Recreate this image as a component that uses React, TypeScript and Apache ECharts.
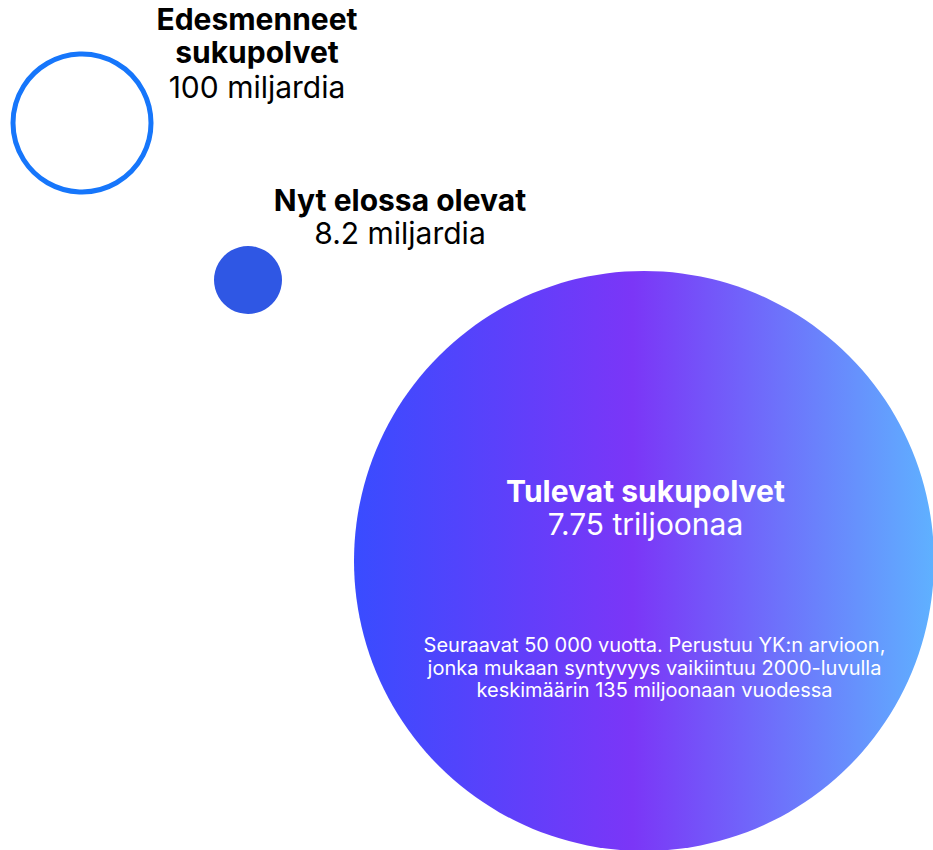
import React, { useEffect, useRef } from "react";
import * as echarts from "echarts";

// Data
const groups = ["Edesmenneet sukupolvet", "Nyt elossa olevat", "Tulevat sukupolvet"];
const amounts = ["100 miljardia", "8.2 miljardia", "7.75 triljoonaa"];
const valuesBillions = [100, 8.2, 7750];
const footnote = [
  "Seuraavat 50 000 vuotta. Perustuu YK:n arvioon,",
  "jonka mukaan syntyvyys vaikiintuu 2000-luvulla",
  "keskimäärin 135 miljoonaan vuodessa",
];

// Layout (pixel-space positions on a hidden axis)
const centers: [number, number][] = [
  [82, 123],
  [248, 280],
  [644, 561],
];
const diameters = [138, 68, 580];

const FONT = "Inter, 'Noto Sans', sans-serif";

export default function App() {
  const ref = useRef<HTMLDivElement>(null);
  useEffect(() => {
    document.body.style.margin = "0";
    const chart = echarts.init(ref.current!, null, { renderer: "svg" });
    const data = centers.map((c, i) => {
      const base: any = {
        name: groups[i],
        value: [c[0], c[1], valuesBillions[i]],
        symbolSize: diameters[i],
      };
      if (i === 0) {
        base.itemStyle = { color: "rgba(255,255,255,0)", borderColor: "#1676fb", borderWidth: 5, opacity: 1 };
      } else if (i === 1) {
        base.itemStyle = { color: "#2f57e4", opacity: 1 };
      } else {
        base.itemStyle = {
          opacity: 1,
          color: new echarts.graphic.LinearGradient(0, 0, 1, 0, [
            { offset: 0, color: "#394cff" },
            { offset: 0.48, color: "#7b36f7" },
            { offset: 1, color: "#5fb1ff" },
          ]),
        };
      }
      return base;
    });

    const titleLines0 = groups[0].split(" ");
    const bold = (fill: string, lh: number, w: number) => ({
      fontFamily: FONT, fontSize: 30, fontWeight: "bold", lineHeight: lh, fill, align: "center", width: w,
    });
    const reg = (fill: string, lh: number, w: number) => ({
      fontFamily: FONT, fontSize: 30, lineHeight: lh, fill, align: "center", width: w,
    });
    chart.setOption({
      animation: false,
      grid: { left: 0, right: 0, top: 0, bottom: 0 },
      xAxis: { type: "value", min: 0, max: 933, show: false },
      yAxis: { type: "value", min: 0, max: 850, inverse: true, show: false },
      series: [
        {
          type: "scatter",
          data,
          silent: true,
          z: 2,
        },
      ],
      graphic: [
        {
          type: "text",
          left: 257 - 150,
          top: 4,
          z: 100,
          style: {
            text: `{b|${titleLines0[0]}}\n{b|${titleLines0[1]}}\n{r|${amounts[0]}}`,
            rich: { b: bold("#000", 33, 300), r: reg("#000", 37, 300) },
          },
        },
        {
          type: "text",
          left: 400 - 150,
          top: 185,
          z: 100,
          style: {
            text: `{b|${groups[1]}}\n{r|${amounts[1]}}`,
            rich: { b: bold("#000", 33, 300), r: reg("#000", 33, 300) },
          },
        },
        {
          type: "text",
          left: 645.5 - 200,
          top: 476,
          z: 100,
          style: {
            text: `{b|${groups[2]}}\n{r|${amounts[2]}}`,
            rich: { b: bold("#fff", 33, 400), r: reg("#fff", 33, 400) },
          },
        },
        {
          type: "text",
          left: 654.5 - 250,
          top: 635,
          z: 100,
          style: {
            text: footnote.map((l) => `{s|${l}}`).join("\n"),
            rich: {
              s: { fontFamily: FONT, fontSize: 20, lineHeight: 22.5, fill: "#fff", align: "center", width: 500 },
            },
          },
        },
      ],
    });
    return () => chart.dispose();
  }, []);
  return <div ref={ref} style={{ width: 933, height: 850 }} />;
}
